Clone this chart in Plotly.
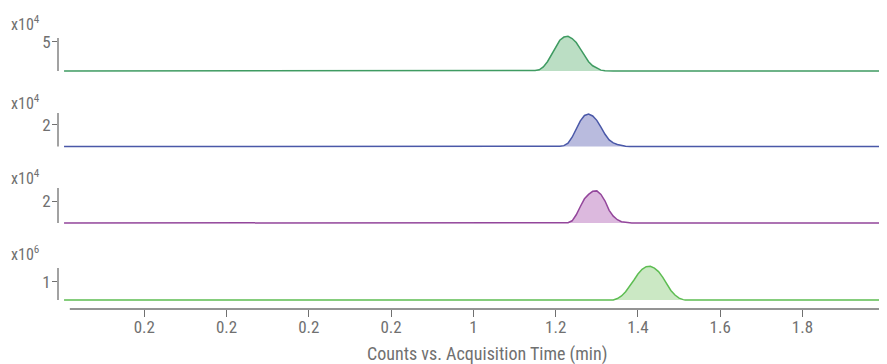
import plotly.graph_objects as go

# ---------------- data ----------------
x_start, x_end = 0.005, 1.995

# Panel 1 (x10^4)
p1_x = [1.14, 1.15, 1.16, 1.17, 1.18, 1.19, 1.20, 1.21, 1.22, 1.23, 1.24, 1.25, 1.26,
        1.27, 1.28, 1.29, 1.30, 1.31, 1.32, 1.33, 1.34]
p1_y = [0, 0.08, 0.2, 0.7, 1.6, 2.8, 4.2, 5.3, 5.85, 5.98, 5.6, 4.9, 3.8,
        2.6, 1.6, 0.9, 0.45, 0.15, 0.05, 0.02, 0]

# Panel 2 (x10^4)
p2_x = [1.20, 1.21, 1.22, 1.23, 1.24, 1.25, 1.26, 1.27, 1.28, 1.29, 1.30, 1.31, 1.32,
        1.33, 1.34, 1.35, 1.36, 1.37, 1.38, 1.39]
p2_y = [0, 0.02, 0.08, 0.3, 0.85, 1.6, 2.35, 2.85, 2.98, 2.8, 2.4, 1.78, 1.12,
        0.6, 0.33, 0.18, 0.08, 0.03, 0.01, 0]

# Panel 3 (x10^4)
p3_x = [1.22, 1.23, 1.24, 1.25, 1.26, 1.27, 1.28, 1.29, 1.30, 1.31, 1.32, 1.33, 1.34,
        1.35, 1.36, 1.37, 1.38, 1.385]
p3_y = [0, 0.03, 0.2, 0.75, 1.5, 2.2, 2.6, 2.88, 2.92, 2.6, 2.0, 1.15, 0.62,
        0.3, 0.12, 0.05, 0.02, 0]

# Panel 4 (x10^6)
p4_x = [1.34, 1.35, 1.36, 1.37, 1.38, 1.39, 1.40, 1.41, 1.42, 1.43, 1.44, 1.45, 1.46,
        1.47, 1.48, 1.49, 1.50, 1.51, 1.515]
p4_y = [0, 0.08, 0.22, 0.45, 0.75, 1.08, 1.42, 1.68, 1.82, 1.84, 1.74, 1.55, 1.25,
        0.88, 0.52, 0.27, 0.1, 0.02, 0]

exponents = ["4", "4", "4", "6"]
ytick_vals = [5, 2, 2, 1]
ytick_text = ["5", "2", "2", "1"]

xtick_vals = [0.2, 0.4, 0.6, 0.8, 1.0, 1.2, 1.4, 1.6, 1.8, 2.0]
xtick_text = ["0.2", "0.2", "0.2", "0.2", "1", "1.2", "1.4", "1.6", "1.8", ""]
x_title = "Counts vs. Acquisition Time (min)"

# ---------------- style / layout ----------------
OFF = 8                      # page body margin in the browser
W, H = 887 - OFF, 364 - OFF
ML = 58 - OFF                # plot area from page x=58 ...
MR = 887 - 885               # ... to page x=885
FONT = "Roboto Condensed, Liberation Sans Narrow, DejaVu Sans Condensed, Roboto, sans-serif"
GRAY = "#707070"

line_colors = ["#3f9b62", "#4a58a8", "#93469b", "#5dbd52"]
fill_colors = ["rgba(150,205,165,0.65)", "rgba(155,158,208,0.7)",
               "rgba(205,155,208,0.7)", "rgba(175,220,165,0.65)"]

# per panel (page pixels): baseline, px per unit, axis-line top, exponent label y
baseline_px = [71, 146.5, 223, 300]
px_per_unit = [5.8, 10.9, 11.0, 18.3]
axis_top_px = [38, 113, 188, 268]
exp_label_px = [23, 103, 178, 253]

xr0, xr1 = -0.0097, 2.0005


def py(p):
    return 1 - (p - OFF) / H


def px(p):
    return ((p - OFF) - ML) / (W - ML - MR)


fig = go.Figure()
layout_axes = {}
shapes = []
annotations = []

series = [(p1_x, p1_y), (p2_x, p2_y), (p3_x, p3_y), (p4_x, p4_y)]
for i, (sx, sy) in enumerate(series):
    yname = "y" if i == 0 else f"y{i + 1}"
    lname = "yaxis" if i == 0 else f"yaxis{i + 1}"
    b, s, top = baseline_px[i], px_per_unit[i], axis_top_px[i]
    peak_px = b - max(sy) * s
    dom_top = min(peak_px, top) - 4
    dom_bot = b + 3
    rng = [-(dom_bot - b) / s, (b - dom_top) / s]

    fig.add_trace(go.Scatter(x=sx, y=sy, xaxis="x", yaxis=yname, mode="lines",
                             line=dict(width=0), fill="tozeroy",
                             fillcolor=fill_colors[i], hoverinfo="skip",
                             showlegend=False))
    fig.add_trace(go.Scatter(x=[x_start] + sx + [x_end], y=[0] + sy + [0],
                             xaxis="x", yaxis=yname, mode="lines",
                             line=dict(color=line_colors[i], width=1.5),
                             showlegend=False))

    layout_axes[lname] = dict(domain=[py(dom_bot), py(dom_top)], anchor="x",
                              range=rng, showgrid=False, zeroline=False,
                              showline=False, ticks="outside", ticklen=5,
                              tickwidth=1.2, tickcolor=GRAY,
                              ticklabelstandoff=-2,
                              tickvals=[ytick_vals[i]], ticktext=[ytick_text[i]],
                              tickfont=dict(family=FONT, size=17, color=GRAY),
                              fixedrange=True)
    # vertical y axis line
    shapes.append(dict(type="line", xref="paper", yref=yname, x0=0, x1=0,
                       y0=0, y1=(b - top) / s, line=dict(color=GRAY, width=1.3)))
    annotations.append(dict(xref="paper", yref="paper",
                            x=px(9), y=py(exp_label_px[i]),
                            xanchor="left", yanchor="middle", showarrow=False,
                            text=f"x10<sup>{exponents[i]}</sup>",
                            font=dict(family=FONT, size=16, color=GRAY)))

# bottom x axis line
xaxis_px = 309
shapes.append(dict(type="line", xref="x", yref="paper", x0=0.019, x1=2.0,
                   y0=py(xaxis_px), y1=py(xaxis_px), line=dict(color=GRAY, width=1.5)))

annotations.append(dict(xref="paper", yref="paper", x=px(487),
                        y=py(354), xanchor="center", yanchor="middle",
                        showarrow=False, text=x_title,
                        font=dict(family=FONT, size=18, color=GRAY)))

fig.update_layout(
    width=W, height=H,
    margin=dict(l=ML, r=MR, t=0, b=0),
    paper_bgcolor="white", plot_bgcolor="white",
    xaxis=dict(range=[xr0, xr1], anchor="free", position=py(xaxis_px),
               showgrid=False, zeroline=False, showline=False,
               ticks="outside", ticklen=7, tickwidth=1.2, tickcolor=GRAY,
               ticklabelstandoff=-4,
               tickvals=xtick_vals, ticktext=xtick_text,
               tickfont=dict(family=FONT, size=17, color=GRAY), fixedrange=True),
    shapes=shapes, annotations=annotations,
    **layout_axes,
)

fig.write_html("out.html")
